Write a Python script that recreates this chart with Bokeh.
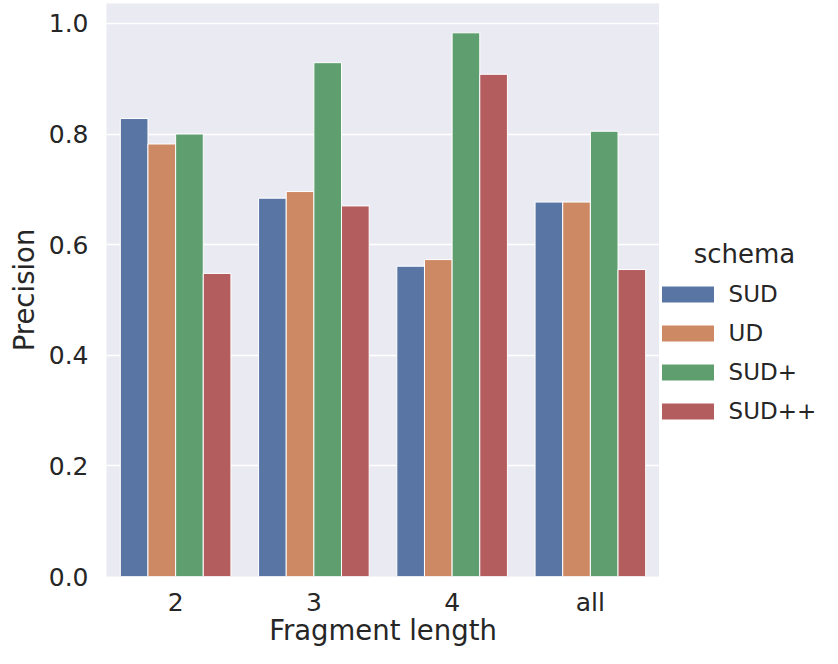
from bokeh.plotting import figure
from bokeh.layouts import row
from bokeh.models import (ColumnDataSource, FactorRange, Range1d, FixedTicker,
                          PrintfTickFormatter, Legend, LegendItem, Label)
from bokeh.transform import dodge
from bokeh.embed import file_html
from bokeh.resources import INLINE

fragments = ["2", "3", "4", "all"]
schemas = ["SUD", "UD", "SUD+", "SUD++"]
sud = [0.828, 0.684, 0.561, 0.677]
ud = [0.782, 0.696, 0.573, 0.677]
sud_plus = [0.800, 0.929, 0.983, 0.805]
sud_pp = [0.548, 0.670, 0.908, 0.555]
y_ticks = [0.0, 0.2, 0.4, 0.6, 0.8, 1.0]

colors = ["#5875A4", "#CC8963", "#5F9E6E", "#B45D5F"]
offsets = [-0.3, -0.1, 0.1, 0.3]
FONT = "DejaVu Sans"
TXT = "#262626"

src = ColumnDataSource(dict(fragment=fragments, SUD=sud, UD=ud,
                            SUDp=sud_plus, SUDpp=sud_pp))
cols = ["SUD", "UD", "SUDp", "SUDpp"]

p = figure(width=659, height=648, x_range=FactorRange(*fragments, range_padding=0),
           y_range=Range1d(0, 1.036), output_backend="svg", toolbar_location=None,
           min_border_left=106, min_border_right=0, min_border_top=3,
           min_border_bottom=0)
p.background_fill_color = "#EAEAF2"
p.border_fill_color = "white"
p.outline_line_color = None

for c, off, col in zip(cols, offsets, colors):
    p.vbar(x=dodge("fragment", off, range=p.x_range), top=c, width=0.2,
           source=src, fill_color=col, line_color="white", line_width=1)

p.xgrid.grid_line_color = None
p.ygrid.grid_line_color = "white"
p.ygrid.grid_line_width = 1.3
p.yaxis.ticker = FixedTicker(ticks=y_ticks)
p.yaxis.formatter = PrintfTickFormatter(format="%.1f")

for ax in (p.xaxis[0], p.yaxis[0]):
    ax.axis_line_color = None
    ax.major_tick_line_color = None
    ax.minor_tick_line_color = None
    ax.major_tick_out = 0
    ax.major_tick_in = 0
    ax.major_label_text_font = FONT
    ax.major_label_text_font_size = "25px"
    ax.major_label_text_color = TXT
    ax.axis_label_text_font = FONT
    ax.axis_label_text_font_size = "27.5px"
    ax.axis_label_text_color = TXT
    ax.axis_label_text_font_style = "normal"

p.xaxis.axis_label = "Fragment length"
p.yaxis.axis_label = "Precision"
p.xaxis.major_label_standoff = 11
p.yaxis.major_label_standoff = 18
p.xaxis.axis_label_standoff = -6
p.yaxis.axis_label_standoff = 6

# legend panel
lp = figure(width=163, height=648, x_range=Range1d(0, 1), y_range=Range1d(0, 1),
            output_backend="svg", toolbar_location=None, x_axis_type=None,
            y_axis_type=None, min_border=0)
lp.outline_line_color = None
lp.background_fill_color = "white"
lp.border_fill_color = "white"
lp.grid.grid_line_color = None
proxies = []
for col in colors:
    r = lp.vbar(x=[0], top=[0], width=0.2, fill_color=col, line_color="white",
                line_width=8)
    r.visible = False
    proxies.append(r)
legend = Legend(items=[LegendItem(label=s, renderers=[r]) for s, r in zip(schemas, proxies)],
                location=(-9.4, 150.5), border_line_color=None, background_fill_alpha=0,
                padding=0, margin=0, glyph_width=75, glyph_height=30, label_height=30,
                spacing=9, label_standoff=4, label_text_font=FONT,
                label_text_font_size="23px", label_text_color=TXT)
lp.add_layout(legend)
lp.add_layout(Label(x=85, y=322.5, x_units="screen", y_units="screen", text="schema",
                    text_align="center", text_baseline="middle", text_font=FONT,
                    text_font_size="26px", text_color=TXT))

open("out.html", "w").write(file_html(row(p, lp), INLINE))
